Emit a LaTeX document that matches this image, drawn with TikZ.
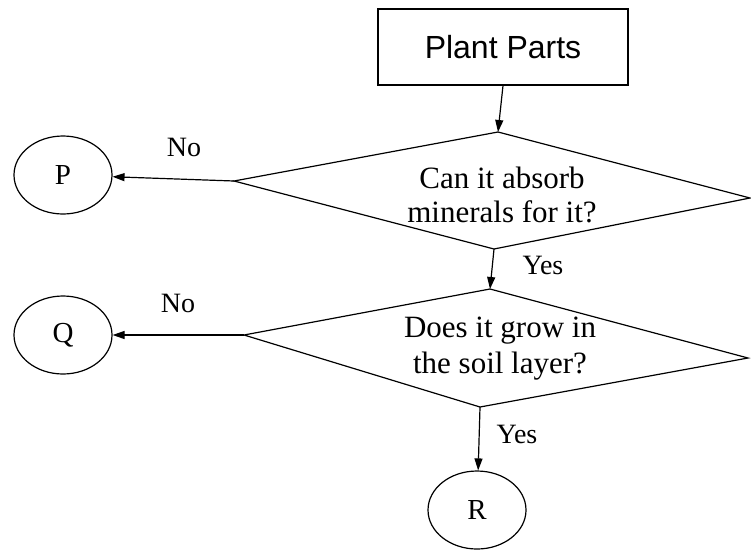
\documentclass[tikz,border=0pt]{standalone}
\usepackage{fontspec}
\setmainfont{Liberation Serif}
\newfontfamily\arialfont{Liberation Sans}
\usetikzlibrary{shapes.geometric,arrows.meta}
\begin{document}
\begin{tikzpicture}[x=1pt,y=-1pt,
  conn/.style={line width=1.2pt,-{Triangle[length=12pt,width=8pt]}},
  endnode/.style={draw,line width=1.2pt,ellipse,minimum width=98pt,minimum height=78pt,inner sep=0pt,font=\fontsize{29}{31}\selectfont},
  qtext/.style={align=center,font=\fontsize{31}{34}\selectfont},
  lbl/.style={font=\fontsize{28}{30}\selectfont}]
\useasboundingbox (0,0) rectangle (751,552);
% start box
\node[draw,line width=1.2pt,minimum width=250pt,minimum height=76pt,inner sep=0pt,
  font=\arialfont\fontsize{32}{34}\selectfont] (start) at (503,47) {Plant Parts};
% diamond 1
\coordinate (d1l) at (234,181);
\coordinate (d1t) at (498,132);
\coordinate (d1r) at (750,198);
\coordinate (d1b) at (494,249);
\draw[line width=1.2pt] (d1l) -- (d1t) -- (d1r) -- (d1b) -- cycle;
\node[qtext] (q1) at (502,195) {Can it absorb\\minerals for it?};
% diamond 2
\coordinate (d2l) at (244,335);
\coordinate (d2t) at (490,289);
\coordinate (d2r) at (748,358);
\coordinate (d2b) at (480,407);
\draw[line width=1.2pt] (d2l) -- (d2t) -- (d2r) -- (d2b) -- cycle;
\node[qtext,font=\fontsize{31}{36}\selectfont] (q2) at (500,349) {Does it grow in\\the soil layer?};
% end nodes
\node[endnode] (P) at (63,175) {P};
\node[endnode] (Q) at (63,335) {Q};
\node[endnode] (R) at (477,510) {R};
% connectors
\draw[conn] (start.south) -- (d1t);
\draw[conn] (d1l) -- (P);
\draw[conn] (d1b) -- (d2t);
\draw[conn] (d2l) -- (Q);
\draw[conn] (d2b) -- (R);
% labels
\node[lbl] (no1) at (184,147) {No};
\node[lbl] (no2) at (178,303) {No};
\node[lbl] (yes1) at (543,265) {Yes};
\node[lbl] (yes2) at (517,434) {Yes};
\end{tikzpicture}
\end{document}
